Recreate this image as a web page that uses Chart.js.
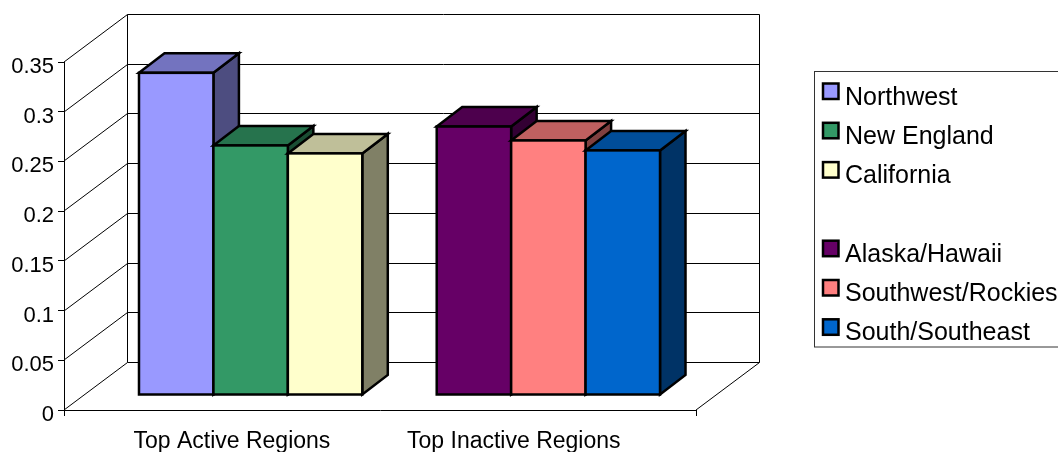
<!DOCTYPE html>
<html>
<head>
<meta charset="utf-8">
<title>Regions</title>
<script src="https://cdn.jsdelivr.net/npm/chart.js@4/dist/chart.umd.min.js"></script>
<style>
  html, body { margin: 0; background: #fff; overflow: hidden; }
  canvas { display: block; }
</style>
</head>
<body>
<canvas id="chart" width="1058" height="452"></canvas>
<script>
const categories = ["Top Active Regions", "Top Inactive Regions"];
const seriesNames = ["Northwest", "New England", "California", "", "Alaska/Hawaii", "Southwest/Rockies", "South/Southeast"];
const seriesValues = [0.324, 0.251, 0.243, null, 0.27, 0.256, 0.246];
const seriesColors = ["#9999FF", "#339966", "#FFFFCC", "#FFFFFF", "#660066", "#FF8080", "#0066CC"];
const valueTicks = [0, 0.05, 0.1, 0.15, 0.2, 0.25, 0.3, 0.35];

// box depth of the 3D frame, and where the bars stand inside it
const DEPTH_X = 63.5;
const DEPTH_Y = 48;
const BAR_FRONT_X = 19.5;
const BAR_FRONT_Y = 15;
const BAR_DEPTH_X = 25.5;
const BAR_DEPTH_Y = 19.5;

const FONT = "Liberation Sans";

function shade(hex, k) {
  const n = parseInt(hex.slice(1), 16);
  const c = [n >> 16, (n >> 8) & 255, n & 255].map((v) => Math.round(v * k));
  return `rgb(${c[0]},${c[1]},${c[2]})`;
}

function poly(ctx, pts, fill) {
  ctx.beginPath();
  pts.forEach((p, i) => (i ? ctx.lineTo(p[0], p[1]) : ctx.moveTo(p[0], p[1])));
  ctx.closePath();
  if (fill) {
    ctx.fillStyle = fill;
    ctx.fill();
  }
  ctx.stroke();
}

// back wall, side wall and floor
const framePlugin = {
  id: "frame",
  beforeDatasetsDraw(chart) {
    const { ctx, scales } = chart;
    const left = scales.x.left;
    const right = scales.x.right;
    ctx.save();
    ctx.strokeStyle = "#000";
    ctx.lineWidth = 1;
    ctx.beginPath();
    valueTicks.forEach((v) => {
      const y = Math.round(scales.y.getPixelForValue(v));
      ctx.moveTo(left, y);
      ctx.lineTo(left + DEPTH_X, y - DEPTH_Y + 0.5);
      ctx.lineTo(right + DEPTH_X, y - DEPTH_Y + 0.5);
    });
    const top = Math.round(scales.y.getPixelForValue(valueTicks[valueTicks.length - 1])) - DEPTH_Y + 0.5;
    const floor = Math.round(scales.y.getPixelForValue(0));
    ctx.moveTo(left + DEPTH_X, top);
    ctx.lineTo(left + DEPTH_X, floor - DEPTH_Y + 0.5);
    ctx.moveTo(right + DEPTH_X, top);
    ctx.lineTo(right + DEPTH_X, floor - DEPTH_Y + 0.5);
    ctx.lineTo(right, floor);
    ctx.stroke();
    ctx.restore();
  },
};

// bars are painted left to right so each one covers its neighbour's side face
const barPlugin = {
  id: "bars3d",
  beforeDatasetDraw() {
    return false;
  },
  afterDatasetsDraw(chart) {
    const { ctx } = chart;
    chart.data.datasets.forEach((ds, i) => {
      if (ds.data[0] == null) return;
      const bar = chart.getDatasetMeta(i).data[0];
      const { x, y, base, width } = bar.getProps(["x", "y", "base", "width"], true);
      const l = x - width / 2;
      const r = x + width / 2;
      ctx.save();
      ctx.translate(BAR_FRONT_X, -BAR_FRONT_Y);
      ctx.strokeStyle = "#000";
      ctx.lineWidth = 2.5;
      ctx.lineJoin = "miter";
      poly(ctx, [[r, y], [r + BAR_DEPTH_X, y - BAR_DEPTH_Y], [r + BAR_DEPTH_X, base - BAR_DEPTH_Y], [r, base]], shade(ds.backgroundColor, 0.5));
      poly(ctx, [[l, y], [l + BAR_DEPTH_X, y - BAR_DEPTH_Y], [r + BAR_DEPTH_X, y - BAR_DEPTH_Y], [r, y]], shade(ds.backgroundColor, 0.75));
      bar.draw(ctx);
      ctx.strokeRect(l, y, width, base - y);
      ctx.restore();
    });
  },
};

// boxed legend running off the right edge, blank series leaves an empty row
const legendPlugin = {
  id: "sideLegend",
  afterDraw(chart) {
    const { ctx } = chart;
    ctx.save();
    ctx.strokeStyle = "#333";
    ctx.lineWidth = 1;
    ctx.strokeRect(814.5, 71.5, 300, 275.5);
    ctx.font = `25px "${FONT}"`;
    ctx.textBaseline = "alphabetic";
    chart.data.datasets.forEach((ds, i) => {
      if (!ds.label) return;
      const row = 39.3 * i;
      ctx.fillStyle = ds.backgroundColor;
      ctx.strokeStyle = "#000";
      ctx.lineWidth = 2.5;
      ctx.fillRect(823, 83.5 + row, 15.5, 15.5);
      ctx.strokeRect(823, 83.5 + row, 15.5, 15.5);
      ctx.fillStyle = "#000";
      ctx.fillText(ds.label, 845, 104.5 + row);
    });
    ctx.restore();
  },
};

new Chart(document.getElementById("chart"), {
  type: "bar",
  data: {
    labels: [categories.join(" ".repeat(12))],
    datasets: seriesNames.map((name, i) => ({
      label: name,
      data: [seriesValues[i]],
      backgroundColor: seriesColors[i],
      borderWidth: 0,
      barPercentage: 1,
      categoryPercentage: 0.8244,
    })),
  },
  options: {
    responsive: false,
    animation: false,
    layout: { padding: { left: 0, top: 62, right: 362, bottom: 0 } },
    plugins: { legend: { display: false }, tooltip: { enabled: false } },
    scales: {
      x: {
        afterFit(scale) { scale.height = 42; },
        border: { color: "#000" },
        grid: { drawOnChartArea: false, color: "#000", tickLength: 6, offset: true },
        ticks: {
          color: "#000",
          font: { family: FONT, size: 23 },
          padding: 12,
          maxRotation: 0,
          autoSkip: false,
          labelOffset: -3,
        },
      },
      y: {
        min: 0,
        max: 0.35,
        afterFit(scale) { scale.width = 64; },
        afterBuildTicks(scale) { scale.ticks = valueTicks.map((value) => ({ value })); },
        border: { color: "#000" },
        grid: { drawOnChartArea: false, color: "#000", tickLength: 6 },
        ticks: {
          color: "#000",
          font: { family: FONT, size: 22 },
          padding: 4,
          labelOffset: 5,
          callback: (v) => String(+v.toFixed(2)),
        },
      },
    },
  },
  plugins: [framePlugin, barPlugin, legendPlugin],
});
</script>
</body>
</html>
